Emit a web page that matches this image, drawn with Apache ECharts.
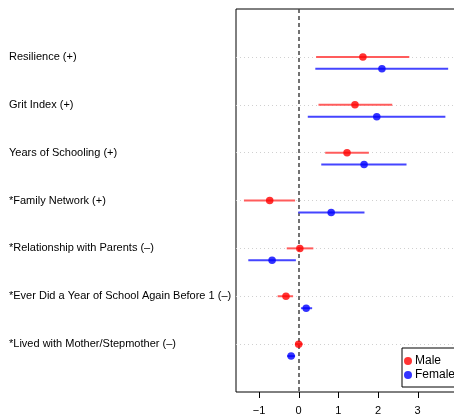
<!DOCTYPE html>
<html>
<head>
<meta charset="utf-8">
<script src="https://cdn.jsdelivr.net/npm/echarts@6/dist/echarts.min.js"></script>
<style>
  html, body { margin: 0; padding: 0; background: #fff; }
  #chart { width: 454px; height: 419px; }
</style>
</head>
<body>
<div id="chart"></div>
<script>
const categories = [
  'Resilience (+)',
  'Grit Index (+)',
  'Years of Schooling (+)',
  '*Family Network (+)',
  '*Relationship with Parents (\u2013)',
  '*Ever Did a Year of School Again Before 1 (\u2013)',
  '*Lived with Mother/Stepmother (\u2013)'
];
const maleEst = [1.62, 1.42, 1.22, -0.73, 0.03, -0.32, 0.00];
const maleLo = [0.44, 0.50, 0.67, -1.38, -0.30, -0.53, -0.09];
const maleHi = [2.79, 2.36, 1.77, -0.09, 0.37, -0.14, 0.10];
const femaleEst = [2.10, 1.97, 1.65, 0.82, -0.67, 0.19, -0.19];
const femaleLo = [0.42, 0.23, 0.57, -0.01, -1.27, 0.06, -0.29];
const femaleHi = [3.77, 3.70, 2.72, 1.66, -0.07, 0.34, -0.09];
const xTicks = [-1, 0, 1, 2, 3];

const font = 'Liberation Sans, Arial, sans-serif';
const rowY = categories.map((c, i) => i + 1);
const femaleOffset = 0.25;
const yMax = 8;

const chart = echarts.init(document.getElementById('chart'));

// error bar segments: [lo, hi, y]
function barSeries(name, lo, hi, off, color) {
  return {
    name: name + ' CI',
    type: 'custom',
    silent: true,
    data: lo.map((v, i) => [v, hi[i], rowY[i] + off]),
    renderItem: (params, api) => {
      const a = api.coord([api.value(0), api.value(2)]);
      const b = api.coord([api.value(1), api.value(2)]);
      return {
        type: 'line',
        shape: { x1: a[0], y1: a[1], x2: b[0], y2: b[1] },
        style: { stroke: color, lineWidth: 2 }
      };
    },
    z: 3
  };
}

const option = {
  animation: false,
  grid: {
    left: 236, top: 9, width: 230, height: 383,
    outerBoundsMode: 'none',
    show: true, borderColor: '#000', borderWidth: 1
  },
  xAxis: {
    type: 'value',
    min: -1.58,
    max: 4.22,
    axisLine: { show: false, onZero: false },
    splitLine: { show: false },
    axisTick: { show: false },
    axisLabel: {
      customValues: xTicks,
      margin: 13,
      color: '#000',
      fontFamily: font,
      fontSize: 11,
      formatter: v => String(v).replace('-', '\u2212')
    }
  },
  yAxis: {
    type: 'value',
    inverse: true,
    min: 0,
    max: yMax,
    axisLine: { show: false, onZero: false },
    axisTick: { show: false },
    splitLine: { show: false },
    axisLabel: {
      customValues: rowY,
      align: 'left',
      margin: 227,
      color: '#000',
      fontFamily: font,
      fontSize: 11,
      formatter: v => categories[v - 1] || ''
    }
  },
  legend: {
    data: [
      { name: 'Male', icon: 'circle' },
      { name: 'Female', icon: 'circle' }
    ],
    orient: 'vertical',
    left: 402,
    top: 348,
    itemWidth: 8,
    itemHeight: 8,
    itemGap: 2,
    padding: [7, 30, 6, 2],
    borderColor: '#000',
    borderWidth: 1,
    backgroundColor: '#fff',
    textStyle: { color: '#000', fontFamily: font, fontSize: 12, padding: [0, 0, 0, -2] }
  },
  series: [
    {
      name: 'guides',
      type: 'line',
      data: [],
      silent: true,
      markLine: {
        z: 1,
        symbol: 'none',
        silent: true,
        label: { show: false },
        data: rowY.map(y => ({ yAxis: y, lineStyle: { color: '#d0d0d0', type: [1, 3], width: 1 } }))
          .concat([{ xAxis: 0, lineStyle: { color: '#444', type: [4, 3], width: 1.5 } }])
      },
      z: 1
    },
    {
      // R-style tick marks below the box
      name: 'ticks',
      type: 'custom',
      silent: true,
      clip: false,
      z: 10,
      data: xTicks.map(v => [v, yMax]),
      renderItem: (params, api) => {
        const p = api.coord([api.value(0), api.value(1)]);
        return {
          type: 'rect',
          shape: { x: Math.round(p[0]), y: Math.round(p[1]), width: 1, height: 6 },
          style: { fill: '#000' }
        };
      }
    },
    barSeries('Male', maleLo, maleHi, 0, '#ff5c5c'),
    barSeries('Female', femaleLo, femaleHi, femaleOffset, '#4545ff'),
    {
      name: 'Male',
      type: 'scatter',
      symbol: 'circle',
      symbolSize: 7.5,
      itemStyle: { color: '#ff0000' },
      data: maleEst.map((v, i) => [v, rowY[i]]),
      z: 5
    },
    {
      name: 'Female',
      type: 'scatter',
      symbol: 'circle',
      symbolSize: 7.5,
      itemStyle: { color: '#0000ff' },
      data: femaleEst.map((v, i) => [v, rowY[i] + femaleOffset]),
      z: 5
    }
  ]
};

chart.setOption(option);
</script>
</body>
</html>
